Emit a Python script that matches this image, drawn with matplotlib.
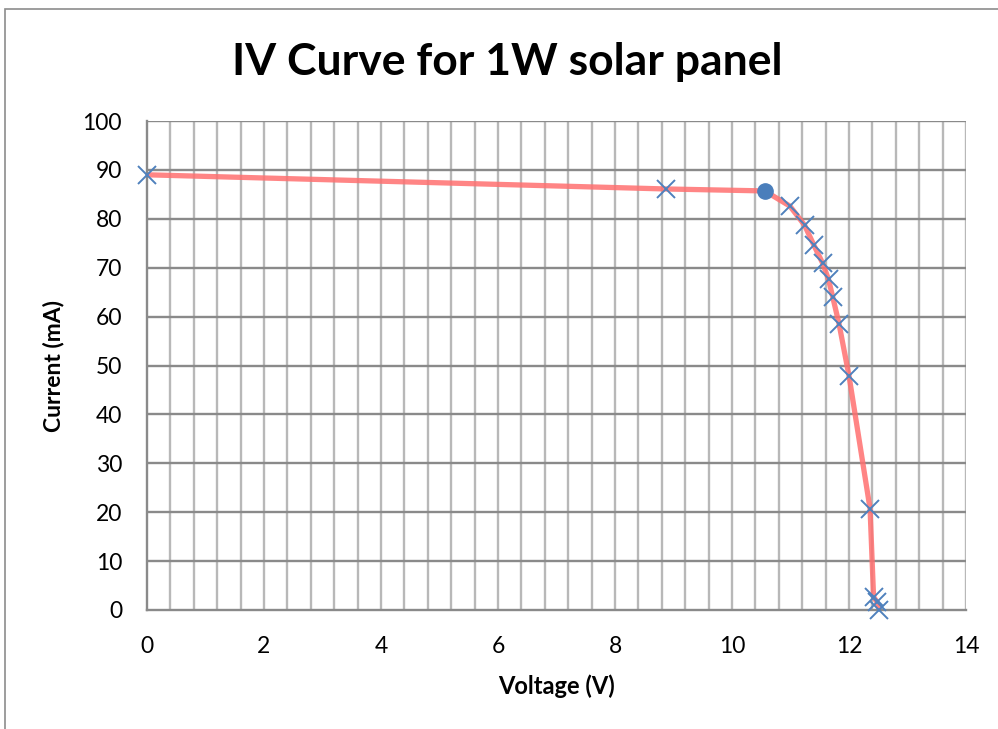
import matplotlib
matplotlib.use("Agg")
import matplotlib.pyplot as plt
from matplotlib.patches import Rectangle
import numpy as np

# measured points of the 1W panel (V, mA)
voltage = [0.0, 8.87, 10.56, 10.99, 11.24, 11.40, 11.55, 11.65, 11.72, 11.83, 12.00, 12.36, 12.42, 12.48, 12.52]
current = [89.0, 86.1, 85.7, 82.6, 78.7, 74.6, 70.9, 67.6, 64.1, 58.5, 47.9, 20.7, 2.7, 1.6, 0.0]
mpp_index = 2  # maximum power point, drawn as a dot

x_ticks = [0, 2, 4, 6, 8, 10, 12, 14]
y_ticks = [0, 10, 20, 30, 40, 50, 60, 70, 80, 90, 100]

plt.rcParams['font.family'] = ['Lato', 'DejaVu Sans']

fig = plt.figure(figsize=(9.98, 7.29), dpi=100)
ax = fig.add_axes([147/998, 1-610/729, (966-147)/998, (610-121)/729])

# outer chart frame
fig.patches.append(Rectangle((5/998, -0.1), 1.2, 1.1 - 9/729, transform=fig.transFigure,
                             fill=False, edgecolor='#8c8c8c', linewidth=1.2))

ax.set_xlim(0, 14)
ax.set_ylim(0, 100)

# grid: light verticals every 0.4 V, darker horizontals every 10 mA
for gx in np.arange(0.4, 14.01, 0.4):
    ax.axvline(gx, color='#b8b8b8', linewidth=1.7, zorder=0)
for gy in y_ticks[1:]:
    ax.axhline(gy, color='#8a8a8a', linewidth=1.7, zorder=0)

for s in ['top', 'right']:
    ax.spines[s].set_visible(False)
for s in ['left', 'bottom']:
    ax.spines[s].set_color('#8a8a8a')
    ax.spines[s].set_linewidth(1.7)

ax.plot(voltage, current, color='#ff7070', alpha=0.85, linewidth=3.8, zorder=2,
        solid_capstyle='round', solid_joinstyle='round')

xs = [v for i, v in enumerate(voltage) if i != mpp_index]
ys = [c for i, c in enumerate(current) if i != mpp_index]
ax.plot(xs, ys, linestyle='none', marker='x', markersize=13.5, markeredgewidth=1.4,
        color='#4f81bd', zorder=3, clip_on=False)
ax.plot(voltage[mpp_index], current[mpp_index], linestyle='none', marker='o',
        markersize=11, color='#4a7ebb', zorder=4)

ax.set_xticks(x_ticks)
ax.set_yticks(y_ticks)
ax.tick_params(length=0, labelsize=16.5, pad=19)
ax.tick_params(axis='y', pad=18)

ax.set_xlabel('Voltage (V)', fontsize=17, fontweight='bold', labelpad=12)
ax.set_ylabel('Current (mA)', fontsize=16.5, fontweight='bold', labelpad=13)

fig.text(0.508, 1-62/729, 'IV Curve for 1W solar panel', ha='center', va='center',
         fontsize=32, fontweight='bold')

fig.savefig('out.png', dpi=100)
